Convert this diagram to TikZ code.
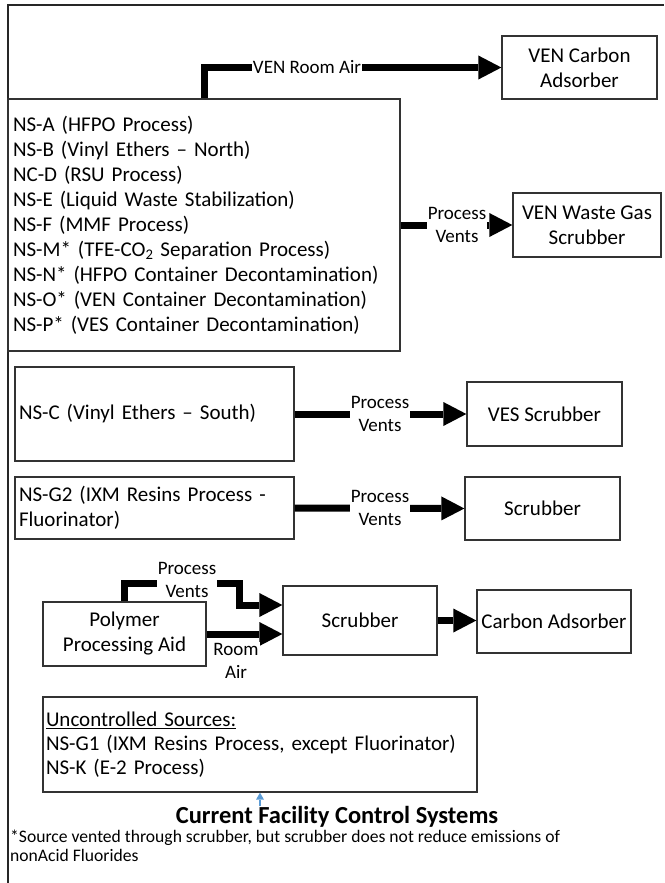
\documentclass[tikz,border=0pt]{standalone}
\usepackage{fontspec}
\setmainfont{Carlito}
\usetikzlibrary{arrows.meta}
\definecolor{arrowblue}{RGB}{91,155,213}
\newcommand\myboxfont{\fontsize{21}{25}\selectfont}
\newcommand\mylblfont{\fontsize{19}{23.5}\selectfont}
\newcommand\mytitlefont{\fontsize{24.5}{28}\selectfont\bfseries}
\newcommand\myfootfont{\fontsize{17.6}{19}\selectfont}
\tikzset{
  box/.style={draw=black!80, line width=1.3pt, inner sep=0pt, font=\myboxfont},
  flow/.style={line width=7pt, -{Triangle[length=23pt,width=24pt,line width=0pt]}},
  lbl/.style={fill=white, inner xsep=1pt, inner ysep=1pt, align=center, font=\mylblfont},
  bluearrow/.style={draw=arrowblue, line width=1.5pt, -{Triangle[length=7pt,width=8pt,line width=0pt]}},
  frame/.style={draw=black!85, line width=1.3pt}
}
\begin{document}
\begin{tikzpicture}[x=1pt,y=-1pt]
\useasboundingbox (0,0) rectangle (664,883);
\draw[frame] (8,883) -- (8,5) -- (664,5);

% boxes
\node[box, minimum width=392pt, minimum height=252pt, text width=382pt, align=left] (nsa) at (204,225)
 {NS-A (HFPO Process)\\
  NS-B (Vinyl Ethers -- North)\\
  NC-D (RSU Process)\\
  NS-E (Liquid Waste Stabilization)\\
  NS-F (MMF Process)\\
  NS-M* (TFE-CO\textsubscript{2} Separation Process)\\
  NS-N* (HFPO Container Decontamination)\\
  NS-O* (VEN Container Decontamination)\\
  NS-P* (VES Container Decontamination)};
\node[box, minimum width=155pt, minimum height=63pt, align=center] (vencarb) at (579.5,67.5) {VEN Carbon\\Adsorber};
\node[box, minimum width=148pt, minimum height=64pt, align=center] (venwaste) at (587,225) {VEN Waste Gas\\Scrubber};
\node[box, minimum width=279pt, minimum height=94pt, text width=271pt, align=left] (nsc) at (154.5,414) {NS-C (Vinyl Ethers -- South)};
\node[box, minimum width=155pt, minimum height=64pt, align=center] (vessc) at (544.5,414) {VES Scrubber};
\node[box, minimum width=279pt, minimum height=62pt, text width=271pt, align=left] (nsg) at (154.5,508) {NS-G2 (IXM Resins Process -\\Fluorinator)};
\node[box, minimum width=155pt, minimum height=63pt, align=center] (scrubA) at (542.5,508.5) {Scrubber};
\node[box, minimum width=163pt, minimum height=64pt, align=center] (ppa) at (124.5,634) {Polymer\\Processing Aid};
\node[box, minimum width=154pt, minimum height=69pt, align=center] (scrubB) at (360,620.5) {Scrubber};
\node[box, minimum width=154pt, minimum height=63pt, align=center] (carbads) at (554,621.5) {Carbon Adsorber};
\node[box, minimum width=434pt, minimum height=95pt, text width=428pt, align=left, font=\fontsize{21}{24}\selectfont] (unctrl) at (260,744.5)
 {\underline{Uncontrolled Sources:}\\
  NS-G1 (IXM Resins Process, except Fluorinator)\\
  NS-K (E-2 Process)};
\node[inner sep=0pt, font=\mytitlefont] (title) at (337,817) {Current Facility Control Systems};
\node[inner sep=0pt, anchor=west, align=left, font=\myfootfont] (foot) at (10,846)
 {*Source vented through scrubber, but scrubber does not reduce emissions of\\nonAcid Fluorides};

% connectors
\draw[flow] (nsa.north) |- (vencarb.west);
\node[lbl] (lroom) at (307,67.5) {VEN Room Air};

\draw[flow] (nsa.east) -- (venwaste.west);
\node[lbl] (lpv1) at (457,225) {Process\\Vents};

\draw[flow] (nsc.east) -- (vessc.west);
\node[lbl] (lpv2) at (380,414) {Process\\Vents};

\draw[flow] (nsg.east) -- (scrubA.west);
\node[lbl] (lpv3) at (380,508) {Process\\Vents};

\coordinate (pvtop) at (239,583);
\coordinate (pvlevel) at (0,605);
\draw[flow] (ppa.north) |- (pvtop) |- (scrubB.west |- pvlevel);
\node[lbl] (lpv4) at (187,580) {Process\\Vents};

\draw[flow] (ppa.east) -- (scrubB.west |- ppa.east);
\node[lbl] (lra) at (236,661) {Room\\Air};

\draw[flow] (scrubB.east) -- (carbads.west |- scrubB.east);

\draw[bluearrow] (unctrl.south |- title.north) -- (unctrl.south);
\end{tikzpicture}
\end{document}
